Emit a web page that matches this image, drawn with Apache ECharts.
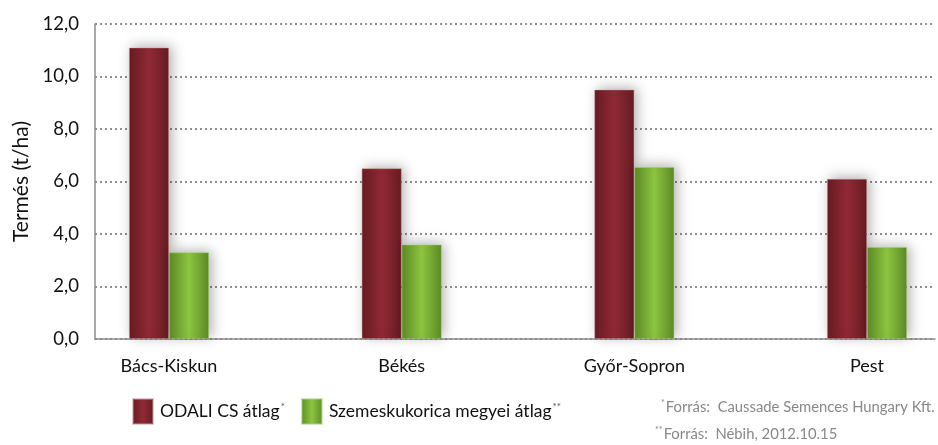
<!DOCTYPE html>
<html>
<head>
<meta charset="utf-8">
<script src="https://cdn.jsdelivr.net/npm/echarts@6/dist/echarts.min.js"></script>
<style>
  html, body { margin: 0; padding: 0; background: #fff; }
  #chart { width: 938px; height: 445px; }
</style>
</head>
<body>
<div id="chart"></div>
<script>
// adatok
const counties = ["Bács-Kiskun", "Békés", "Győr-Sopron", "Pest"];
const odaliValues = [11.1, 6.5, 9.5, 6.1];
const megyeiValues = [3.3, 3.6, 6.55, 3.5];
const seriesNames = ["ODALI CS átlag", "Szemeskukorica megyei átlag"];
const footnotes = [
  "*Forrás:  Caussade Semences Hungary Kft.",
  "**Forrás:  Nébih, 2012.10.15"
];

const FONT = "Lato";

const barGradient = (edge, mid) =>
  new echarts.graphic.LinearGradient(0, 0, 1, 0, [
    { offset: 0, color: edge },
    { offset: 0.5, color: mid },
    { offset: 1, color: edge }
  ]);

const chart = echarts.init(document.getElementById("chart"));

chart.setOption({
  animation: false,
  textStyle: { fontFamily: FONT },
  grid: [
    // tengelyek + rácsvonalak
    { left: 95, right: 3, top: 24, bottom: 106 },
    // oszlopok (kategória közepek a rajz szerint)
    { left: 169, right: 71, top: 24, bottom: 106 }
  ],
  xAxis: [
    {
      gridIndex: 0,
      type: "category",
      data: counties,
      axisLine: { lineStyle: { color: "#8c8c8c", width: 1.5 } },
      axisTick: { show: false },
      axisLabel: { show: false }
    },
    {
      gridIndex: 1,
      type: "category",
      data: counties,
      boundaryGap: false,
      axisLine: { show: false },
      axisTick: { show: false },
      axisLabel: { color: "#111", fontSize: 18, margin: 18, fontFamily: FONT }
    }
  ],
  yAxis: [
    {
      gridIndex: 0,
      type: "value",
      min: 0,
      max: 12,
      interval: 2,
      name: "Termés (t/ha)",
      nameLocation: "middle",
      nameGap: 58,
      nameTextStyle: { color: "#111", fontSize: 21, fontFamily: FONT },
      axisLine: { show: true, lineStyle: { color: "#8c8c8c", width: 1.5 } },
      axisTick: { show: false },
      axisLabel: {
        color: "#111",
        fontSize: 18.5,
        margin: 16,
        fontFamily: FONT,
        formatter: v => v.toFixed(1).replace(".", ",")
      },
      splitLine: { lineStyle: { color: "#8f8f8f", type: [2, 3], width: 2 } }
    },
    {
      gridIndex: 1,
      type: "value",
      min: 0,
      max: 12,
      show: false,
      splitLine: { show: false }
    }
  ],
  legend: {
    left: 132,
    top: 398,
    padding: 0,
    itemWidth: 20,
    itemHeight: 25,
    itemGap: 16,
    icon: "rect",
    data: seriesNames,
    formatter: name => "{n|" + name + "}{s|" + (name === seriesNames[0] ? "*" : "**") + "}",
    textStyle: {
      fontSize: 17,
      rich: {
        n: { fontSize: 17.5, color: "#111", fontFamily: FONT, padding: [0, 0, 0, 2] },
        s: { fontSize: 10, color: "#555", fontFamily: FONT, verticalAlign: "top", padding: [0, 0, 10, 1] }
      }
    }
  },
  graphic: [
    {
      type: "text",
      left: 661,
      top: 399,
      style: {
        text: "{s|*}{t|" + footnotes[0].slice(1) + "}",
        rich: {
          s: { fontSize: 9, fill: "#888", fontFamily: FONT, padding: [0, 1, 8, 0] },
          t: { fontSize: 14.8, fill: "#888", fontFamily: FONT }
        }
      }
    },
    {
      type: "text",
      left: 655,
      top: 426,
      style: {
        text: "{s|**}{t|" + footnotes[1].slice(2) + "}",
        rich: {
          s: { fontSize: 9, fill: "#888", fontFamily: FONT, padding: [0, 1, 8, 0] },
          t: { fontSize: 14.8, fill: "#888", fontFamily: FONT }
        }
      }
    }
  ],
  series: [
    {
      name: seriesNames[0],
      type: "bar",
      xAxisIndex: 1,
      yAxisIndex: 1,
      data: odaliValues,
      barWidth: 40,
      barGap: "0%",
      itemStyle: {
        color: barGradient("#681b22", "#8f2a35"),
        borderColor: "rgba(200,150,155,0.5)",
        borderWidth: 0.8,
        shadowBlur: 12,
        shadowColor: "rgba(0,0,0,0.3)",
        shadowOffsetX: 3,
        shadowOffsetY: -2
      }
    },
    {
      name: seriesNames[1],
      type: "bar",
      xAxisIndex: 1,
      yAxisIndex: 1,
      data: megyeiValues,
      barWidth: 40,
      barGap: "0%",
      itemStyle: {
        color: barGradient("#5c8a26", "#8cc540"),
        borderColor: "rgba(170,210,120,0.5)",
        borderWidth: 0.8,
        shadowBlur: 12,
        shadowColor: "rgba(0,0,0,0.3)",
        shadowOffsetX: 3,
        shadowOffsetY: -2
      }
    }
  ]
});
</script>
</body>
</html>
